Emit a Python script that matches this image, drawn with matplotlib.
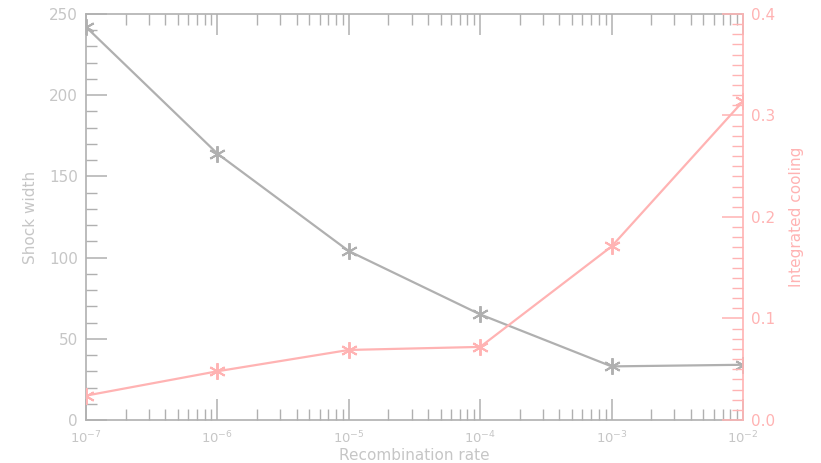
import matplotlib
matplotlib.use("Agg")
import matplotlib.pyplot as plt
from matplotlib.ticker import MultipleLocator, LogLocator, NullFormatter

rate = [1e-7, 1e-6, 1e-5, 1e-4, 1e-3, 1e-2]
shock_width = [242, 164, 104, 65, 33, 34]
integrated_cooling = [0.024, 0.048, 0.069, 0.072, 0.171, 0.314]

grey = "#b0b0b0"
pink = "#ffb3b3"
label_grey = "#c6c6c6"

plt.rcParams["font.family"] = "DejaVu Sans"

fig = plt.figure(figsize=(8.21, 4.63), dpi=100)
ax = fig.add_axes([0.1048, 0.0929, 0.8002, 0.8769])
ax2 = ax.twinx()

ax.plot(rate, shock_width, color=grey, lw=1.6, marker=(6, 2, 0), ms=12,
        mew=1.4, zorder=3)
ax2.plot(rate, integrated_cooling, color=pink, lw=1.6, marker=(6, 2, 0), ms=12,
         mew=1.4, zorder=3)

ax.set_xscale("log")
ax.set_xlim(1e-7, 1e-2)
ax.set_ylim(0, 250)
ax2.set_ylim(0, 0.4)

ax.xaxis.set_major_locator(LogLocator(base=10, numticks=20))
ax.xaxis.set_minor_locator(LogLocator(base=10, subs=range(2, 10), numticks=20))
ax.xaxis.set_minor_formatter(NullFormatter())
ax.yaxis.set_major_locator(MultipleLocator(50))
ax.yaxis.set_minor_locator(MultipleLocator(10))
ax2.yaxis.set_major_locator(MultipleLocator(0.1))
ax2.yaxis.set_minor_locator(MultipleLocator(0.01))
ax2.yaxis.set_major_formatter(plt.FuncFormatter(lambda v, p: f"{v:.1f}"))

for s in ["left", "top", "bottom"]:
    ax.spines[s].set_color(grey)
    ax.spines[s].set_linewidth(1.2)
ax.spines["right"].set_visible(False)
for s in ["left", "top", "bottom"]:
    ax2.spines[s].set_visible(False)
ax2.spines["right"].set_color(pink)
ax2.spines["right"].set_linewidth(1.2)

ax.tick_params(axis="both", which="major", direction="in", length=15, width=1.1,
               color=grey, labelcolor=label_grey, top=True)
ax.tick_params(axis="both", which="minor", direction="in", length=8, width=1.0,
               color=grey, top=True)
ax.tick_params(axis="y", labelsize=11, pad=6)
ax.tick_params(axis="x", labelsize=9.5, pad=7)
ax2.tick_params(axis="y", which="major", direction="in", length=15, width=1.1,
                color=pink, labelcolor=pink, labelsize=11, pad=6)
ax2.tick_params(axis="y", which="minor", direction="in", length=8, width=1.0,
                color=pink)

ax.set_xlabel("Recombination rate", color=label_grey, fontsize=11, labelpad=1)
ax.set_ylabel("Shock width", color=label_grey, fontsize=11, labelpad=8)
ax2.set_ylabel("Integrated cooling", color=pink, fontsize=11, labelpad=10)

fig.savefig("out.png", dpi=100)
